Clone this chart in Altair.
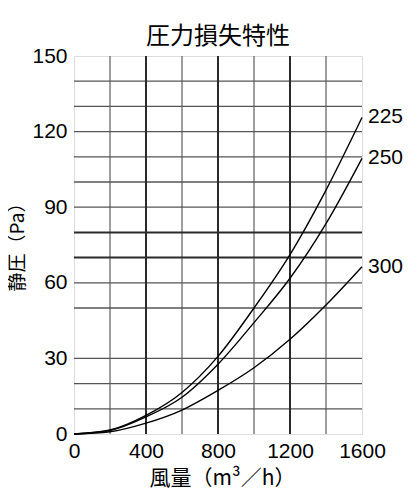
import altair as alt
import pandas as pd

flow = [0, 200, 400, 600, 800, 1000, 1200, 1400, 1600]
p225 = [0, 1.6, 7.4, 16.5, 30.8, 50.0, 71.2, 96.8, 125.6]
p250 = [0, 1.4, 6.8, 14.6, 27.7, 44.2, 61.8, 83.5, 109.4]
p300 = [0, 0.9, 4.3, 9.5, 17.3, 26.3, 37.6, 51.2, 66.4]
series_names = ["225", "250", "300"]

x_ticks = [0, 400, 800, 1200, 1600]
y_ticks = [0, 30, 60, 90, 120, 150]
x_grid_minor = [200, 600, 1000, 1400]
x_grid_major = [400, 800, 1200]
y_grid_minor = [10, 20, 30, 50, 60, 90, 100, 110, 120, 130, 140]
y_grid_major = [70, 80]

rows = []
for name, vals in zip(series_names, [p225, p250, p300]):
    for q, p in zip(flow, vals):
        rows.append({"flow": q, "pa": p, "series": name})
df = pd.DataFrame(rows)
df_end = df[df["flow"] == flow[-1]]

NUM_FONT = "Liberation Sans"
CJK_FONT = "Noto Sans CJK JP"

xs = alt.Scale(domain=[0, 1600], nice=False, zero=True)
ys = alt.Scale(domain=[0, 150], nice=False, zero=True)

x_axis = alt.Axis(
    values=x_ticks, format="d", grid=False, ticks=False, domain=False,
    labelFont=NUM_FONT, labelFontSize=21, labelColor="black", labelPadding=6,
    labelFlush=False,
    title="風量（m³／h）", titleFont=CJK_FONT, titleFontSize=21,
    titleFontWeight="normal", titleColor="black",
    titleX=148, titleY=44, titleBaseline="middle", titleAlign="center",
)
y_axis = alt.Axis(
    values=y_ticks, format="d", grid=False, ticks=False, domain=False,
    labelFont=NUM_FONT, labelFontSize=21, labelColor="black", labelPadding=7,
    labelFlush=False,
    title="静圧（Pa）", titleFont=CJK_FONT, titleFontSize=19,
    titleFontWeight="normal", titleColor="black",
    titleX=-57, titleY=186, titleBaseline="middle", titleAlign="center",
    titleAngle=270,
)

def vrules(vals, color, width):
    return alt.Chart(pd.DataFrame({"flow": vals})).mark_rule(
        color=color, strokeWidth=width
    ).encode(x=alt.X("flow:Q", scale=xs, axis=x_axis))

def hrules(vals, color, width):
    return alt.Chart(pd.DataFrame({"pa": vals})).mark_rule(
        color=color, strokeWidth=width
    ).encode(y=alt.Y("pa:Q", scale=ys, axis=y_axis))

grid = alt.layer(
    vrules(x_grid_minor, "#6a6a6a", 1.3),
    hrules(y_grid_minor, "#555555", 1.3),
    vrules(x_grid_major, "#2a2a2a", 2.0),
    hrules(y_grid_major, "#2a2a2a", 2.0),
)

lines = alt.Chart(df).mark_line(
    interpolate="monotone", color="black", strokeWidth=1.4
).encode(
    x=alt.X("flow:Q", scale=xs, axis=x_axis),
    y=alt.Y("pa:Q", scale=ys, axis=y_axis),
    detail="series:N",
)

labels = alt.Chart(df_end).mark_text(
    align="left", baseline="middle", dx=6, font=NUM_FONT, fontSize=21,
    color="black"
).encode(
    x=alt.X("flow:Q", scale=xs, axis=x_axis),
    y=alt.Y("pa:Q", scale=ys, axis=y_axis),
    text="series:N",
)

chart = alt.layer(grid, lines, labels).properties(
    width=288,
    height=378,
    title=alt.TitleParams(
        "圧力損失特性", font=CJK_FONT, fontSize=24, fontWeight="normal",
        color="black", anchor="middle", offset=-4,
    ),
    autosize=alt.AutoSizeParams(type="none"),
    padding={"left": 66, "top": 48, "right": 46, "bottom": 56},
).configure_view(
    stroke="black", strokeWidth=2.6
).configure(background="white")

chart.save("out.html", embed_options={"renderer": "svg", "actions": False})
